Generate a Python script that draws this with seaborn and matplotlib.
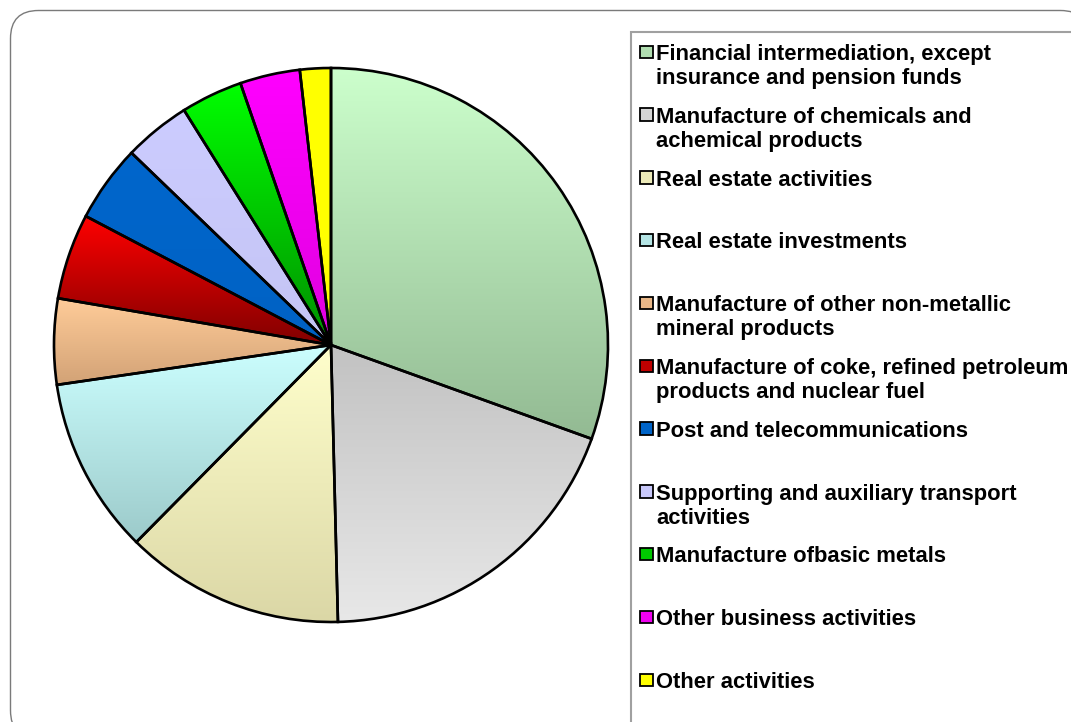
import numpy as np
import matplotlib.pyplot as plt
import seaborn as sns
from matplotlib.patches import FancyBboxPatch, Rectangle
from matplotlib.colors import to_rgb

# --- data (shares in %) ---
sectors = [
    "Financial intermediation, except\ninsurance and pension funds",
    "Manufacture of chemicals and\nachemical products",
    "Real estate activities",
    "Real estate investments",
    "Manufacture of other non-metallic\nmineral products",
    "Manufacture of coke, refined petroleum\nproducts and nuclear fuel",
    "Post and telecommunications",
    "Supporting and auxiliary transport\nactivities",
    "Manufacture ofbasic metals",
    "Other business activities",
    "Other activities",
]
shares = [30.5, 19.1, 12.8, 10.3, 5.0, 5.0, 4.5, 3.9, 3.6, 3.5, 1.8]

# Excel-style gradient fills: colour at top and bottom of each slice
top_colors = ["#CCFFCC", "#C2C2C2", "#FFFFCC", "#CCFFFF", "#FFCC99", "#FF0000",
              "#0066CC", "#CCCCFF", "#00FF00", "#FF00FF", "#FFFF00"]
bottom_colors = ["#93BA93", "#E8E8E8", "#DBD7A6", "#9CCACA", "#D2A276", "#800000",
                 "#0062C4", "#C4C4F4", "#009000", "#E000E0", "#FFFF00"]

sns.set_theme(style="white")
plt.rcParams['font.family'] = ['Liberation Sans', 'DejaVu Sans']

W, H = 1071, 722
fig = plt.figure(figsize=(W / 100, H / 100), dpi=100)

# background layer in pixel coordinates (frame + legend)
bg = fig.add_axes([0, 0, 1, 1])
bg.set_xlim(0, W)
bg.set_ylim(H, 0)
bg.axis('off')

frame = FancyBboxPatch((10.5, 10.5), 1078, 728, boxstyle="round,pad=0,rounding_size=28",
                       facecolor='white', edgecolor='#7a7a7a', linewidth=1.0)
bg.add_patch(frame)
leg_box = Rectangle((631, 32), 500, 760, facecolor='white', edgecolor='#a0a0a0', linewidth=1.5)
bg.add_patch(leg_box)

# --- pie ---
cx, cy, r = 331, 345, 277
pad = 1.01
size = 2 * r * pad
ax = fig.add_axes([(cx - size / 2) / W, (H - cy - size / 2) / H, size / W, size / H])
wedges, _ = ax.pie(shares, startangle=90, counterclock=False, colors=top_colors,
                   wedgeprops=dict(edgecolor='black', linewidth=1.9))

for w, ct, cb in zip(wedges, top_colors, bottom_colors):
    bb = w.get_path().get_extents()
    t = np.linspace(0, 1, 256)[:, None, None]
    grad = np.array(to_rgb(cb))[None, None, :] * (1 - t) + np.array(to_rgb(ct))[None, None, :] * t
    im = ax.imshow(grad, extent=[bb.x0, bb.x1, bb.y0, bb.y1], origin='lower',
                   aspect='auto', interpolation='bilinear', zorder=0.5)
    im.set_clip_path(w)
    w.set_facecolor('none')
    w.set_zorder(1)

ax.set_xlim(-pad, pad)
ax.set_ylim(-pad, pad)
ax.set_aspect('equal')
ax.axis('off')

# --- legend drawn by hand so the entry spacing matches ---
step = 62.8
for i, (lab, ct, cb) in enumerate(zip(sectors, top_colors, bottom_colors)):
    y = 52 + i * step
    mid = 0.5 * (np.array(to_rgb(ct)) + np.array(to_rgb(cb)))
    bg.add_patch(Rectangle((640, y - 6.5), 12.5, 12.5, facecolor=mid, edgecolor='black', linewidth=1.3))
    for k, line in enumerate(lab.split("\n")):
        bg.text(656, y + 8 + k * 24, line, fontsize=15.8, fontweight='bold',
                color='black', va='baseline', ha='left')

fig.savefig("out.png", dpi=100)
